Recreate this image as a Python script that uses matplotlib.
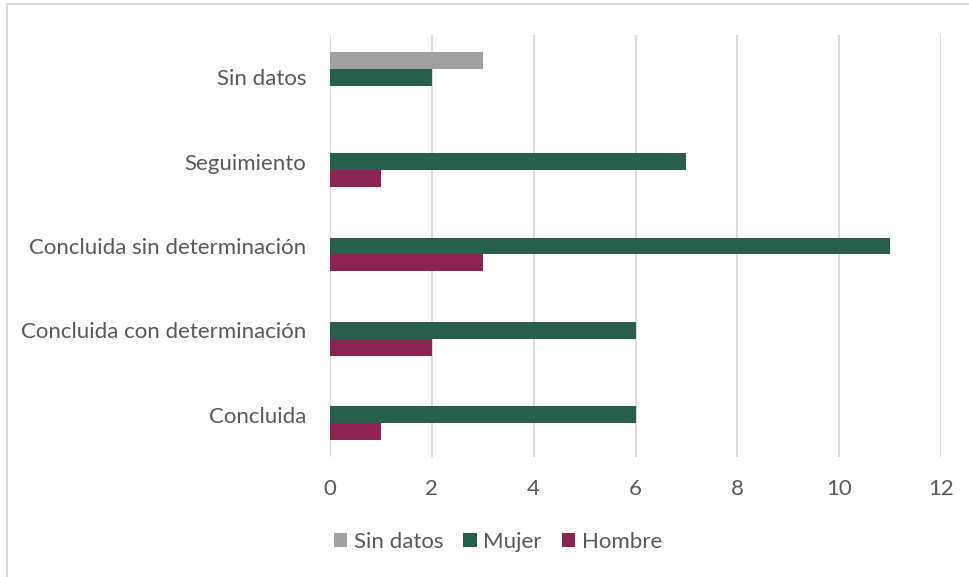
import matplotlib
matplotlib.use("Agg")
import matplotlib.pyplot as plt
import numpy as np
from matplotlib.lines import Line2D

categories = ["Concluida", "Concluida con determinación", "Concluida sin determinación", "Seguimiento", "Sin datos"]
hombre = [1, 2, 3, 1, 0]
mujer = [6, 6, 11, 7, 2]
sin_datos = [0, 0, 0, 0, 3]
xticks = [0, 2, 4, 6, 8, 10, 12]

plt.rcParams['font.family'] = ['Lato', 'DejaVu Sans']
text_color = '#595959'

fig = plt.figure(figsize=(9.69, 5.77), dpi=100)
ax = fig.add_axes([330/969, 1-457/577, (941-330)/969, (457-35)/577])

y = np.arange(len(categories))
h = 0.2
ax.barh(y - h, hombre, height=h, color='#8E2351', label='Hombre', zorder=3)
ax.barh(y, mujer, height=h, color='#2A5E4C', label='Mujer', zorder=3)
ax.barh(y + h, sin_datos, height=h, color='#A0A0A0', label='Sin datos', zorder=3)

ax.set_xlim(0, 12)
ax.set_ylim(-0.5, len(categories) - 0.5)
ax.set_xticks(xticks)
ax.set_yticks(y)
ax.set_yticklabels(categories)
ax.tick_params(axis='both', length=0, labelsize=16, colors=text_color)
ax.tick_params(axis='y', pad=17)
ax.tick_params(axis='x', pad=16)
ax.grid(axis='x', color='#D9D9D9', linewidth=1.3, zorder=0)
for s in ax.spines.values():
    s.set_visible(False)

handles, labels = ax.get_legend_handles_labels()
order = [2, 1, 0]
fig.legend([handles[i] for i in order], [labels[i] for i in order],
           loc='center', bbox_to_anchor=(498/969, 1-542/577), ncol=3, frameon=False,
           fontsize=16, labelcolor=text_color, handlelength=0.6, handleheight=0.6,
           handletextpad=0.3, columnspacing=0.9)

# frame lines
fig.add_artist(Line2D([6.5/969, 6.5/969], [0, 1-4/577], color='#D9D9D9', linewidth=1.5, transform=fig.transFigure))
fig.add_artist(Line2D([6.5/969, 1], [1-4/577, 1-4/577], color='#D9D9D9', linewidth=1.5, transform=fig.transFigure))

fig.savefig("out.png", dpi=100)
